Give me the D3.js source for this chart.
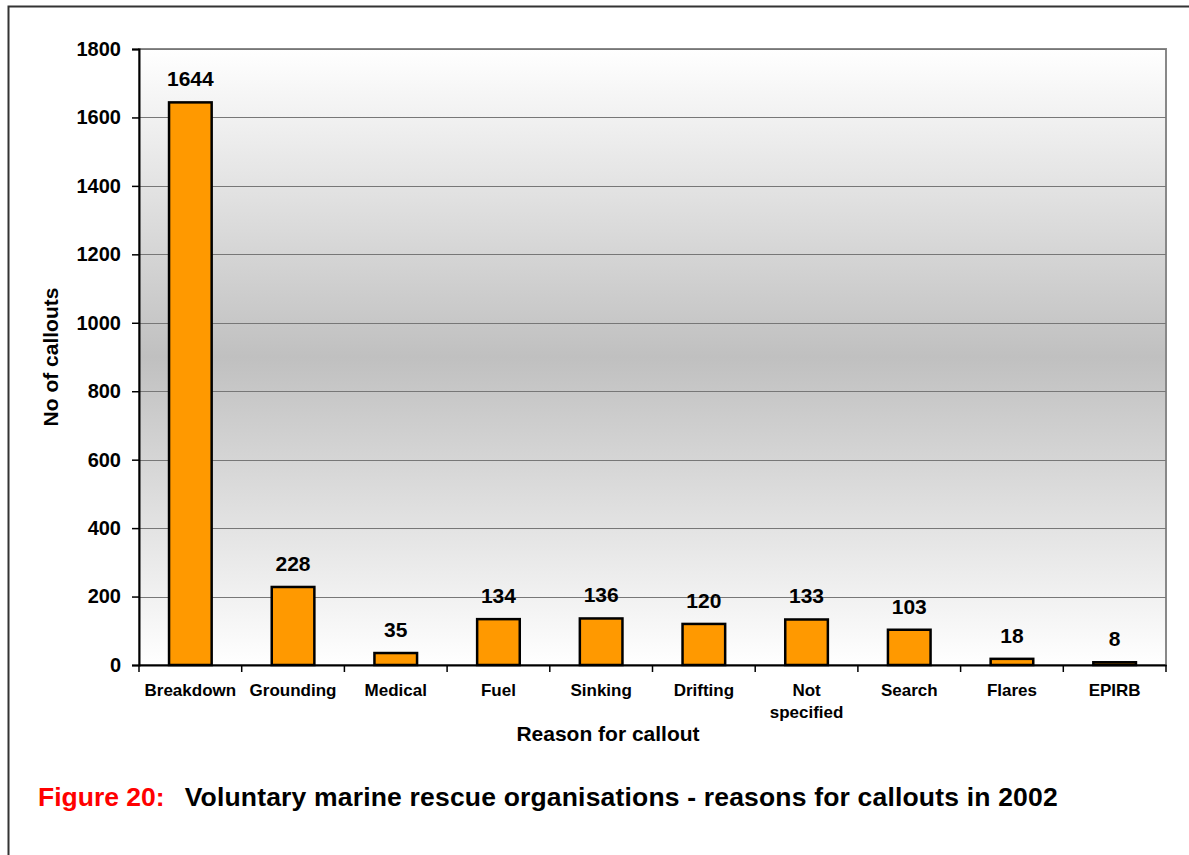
<!DOCTYPE html>
<html>
<head>
<meta charset="utf-8">
<script src="https://cdn.jsdelivr.net/npm/d3@7"></script>
<style>
body { margin: 0; background: #fff; }
text { font-family: "Liberation Sans", Arial, sans-serif; font-weight: bold; }
</style>
</head>
<body>
<div id="chart"></div>
<script>
const reasons = ['Breakdown', 'Grounding', 'Medical', 'Fuel', 'Sinking', 'Drifting', 'Not specified', 'Search', 'Flares', 'EPIRB']
const callouts = [1644, 228, 35, 134, 136, 120, 133, 103, 18, 8]
const yTicks = [0, 200, 400, 600, 800, 1000, 1200, 1400, 1600, 1800]

const width = 1189, height = 855
const plot = { left: 139, top: 49, right: 1166, bottom: 665 }

let svg = d3.select('#chart').append('svg')
    .attr('width', width)
    .attr('height', height)

// outer frame
svg.append('path')
    .attr('d', `M8.5,${height} V6.5 H${width}`)
    .attr('fill', 'none')
    .attr('stroke', '#333')
    .attr('stroke-width', 2)

let x = d3.scaleBand()
    .domain(reasons)
    .range([plot.left, plot.right])
    .paddingInner(0.585)
    .paddingOuter(0.2925)

let band = d3.scaleBand().domain(reasons).range([plot.left, plot.right])

let y = d3.scaleLinear()
    .domain([0, 1800])
    .range([plot.bottom, plot.top])

let grad = svg.append('defs').append('linearGradient')
    .attr('id', 'bg')
    .attr('x1', 0).attr('y1', 0).attr('x2', 0).attr('y2', 1)
grad.append('stop').attr('offset', '0%').attr('stop-color', '#ffffff')
grad.append('stop').attr('offset', '50%').attr('stop-color', '#c0c0c0')
grad.append('stop').attr('offset', '100%').attr('stop-color', '#ffffff')

svg.append('rect')
    .attr('x', plot.left)
    .attr('y', plot.top)
    .attr('width', plot.right - plot.left)
    .attr('height', plot.bottom - plot.top)
    .attr('fill', 'url(#bg)')
    .attr('stroke', '#888')
    .attr('stroke-width', 2)

// gridlines
svg.append('g')
    .selectAll('line')
    .data(yTicks.slice(1))
    .enter()
    .append('line')
        .attr('x1', plot.left)
        .attr('x2', plot.right)
        .attr('y1', d => Math.round(y(d)) + 0.5)
        .attr('y2', d => Math.round(y(d)) + 0.5)
        .attr('stroke', '#777')
        .attr('stroke-width', 1)

// y axis
let yAxis = svg.append('g')
    .attr('transform', `translate(${plot.left},0)`)
    .call(d3.axisLeft(y).tickValues(yTicks).tickSize(7).tickPadding(11).tickFormat(d3.format('d')))
yAxis.select('.domain').attr('stroke', '#000').attr('stroke-width', 2)
yAxis.selectAll('.tick line').attr('stroke', '#000').attr('stroke-width', 1.5)
yAxis.selectAll('text')
    .attr('font-size', 20)
    .attr('fill', '#000')
    .attr('font-family', '"Liberation Sans", Arial, sans-serif')
    .attr('font-weight', 'bold')

// x axis
let xAxis = svg.append('g')
    .attr('transform', `translate(0,${plot.bottom})`)
    .call(d3.axisBottom(band).tickSize(0).tickFormat(''))
xAxis.select('.domain').attr('stroke', '#000').attr('stroke-width', 2)
xAxis.selectAll('.tick').remove()

svg.append('g')
    .selectAll('line')
    .data(reasons.concat(['end']))
    .enter()
    .append('line')
        .attr('x1', (d, i) => i < reasons.length ? band(d) : plot.right)
        .attr('x2', (d, i) => i < reasons.length ? band(d) : plot.right)
        .attr('y1', plot.bottom)
        .attr('y2', plot.bottom + 7)
        .attr('stroke', '#000')
        .attr('stroke-width', 1.5)

let labels = svg.append('g')
    .selectAll('text')
    .data(reasons)
    .enter()
    .append('text')
        .attr('x', d => band(d) + band.bandwidth() / 2)
        .attr('y', 696)
        .attr('text-anchor', 'middle')
        .attr('font-size', 17)
        .attr('fill', '#000')
labels.each(function (d) {
    let words = d === 'Not specified' ? ['Not', 'specified'] : [d]
    d3.select(this).selectAll('tspan')
        .data(words)
        .enter()
        .append('tspan')
            .attr('x', band(d) + band.bandwidth() / 2)
            .attr('dy', (w, i) => i === 0 ? 0 : 22)
            .text(w => w)
})

// bars
svg.append('g')
    .selectAll('rect')
    .data(callouts)
    .enter()
    .append('rect')
        .attr('x', (d, i) => x(reasons[i]))
        .attr('y', d => y(d))
        .attr('width', x.bandwidth())
        .attr('height', d => y(0) - y(d))
        .attr('fill', '#ff9900')
        .attr('stroke', '#000')
        .attr('stroke-width', 2.5)

// value labels
svg.append('g')
    .selectAll('text')
    .data(callouts)
    .enter()
    .append('text')
        .attr('x', (d, i) => band(reasons[i]) + band.bandwidth() / 2)
        .attr('y', d => y(d) - 16)
        .attr('text-anchor', 'middle')
        .attr('font-size', 21)
        .attr('fill', '#000')
        .text(d => d)

// axis titles
svg.append('text')
    .attr('x', 608)
    .attr('y', 741)
    .attr('text-anchor', 'middle')
    .attr('font-size', 21)
    .text('Reason for callout')

svg.append('text')
    .attr('transform', `translate(58,${(plot.top + plot.bottom) / 2}) rotate(-90)`)
    .attr('text-anchor', 'middle')
    .attr('font-size', 21)
    .text('No of callouts')

// caption
let caption = svg.append('text')
    .attr('x', 38)
    .attr('y', 806)
    .attr('font-size', 26.5)
caption.append('tspan').attr('fill', '#ff0000').text('Figure 20:')
caption.append('tspan').attr('fill', '#000').attr('dx', 20)
    .attr('textLength', 873).attr('lengthAdjust', 'spacing')
    .text('Voluntary marine rescue organisations - reasons for callouts in 2002')
</script>
</body>
</html>
